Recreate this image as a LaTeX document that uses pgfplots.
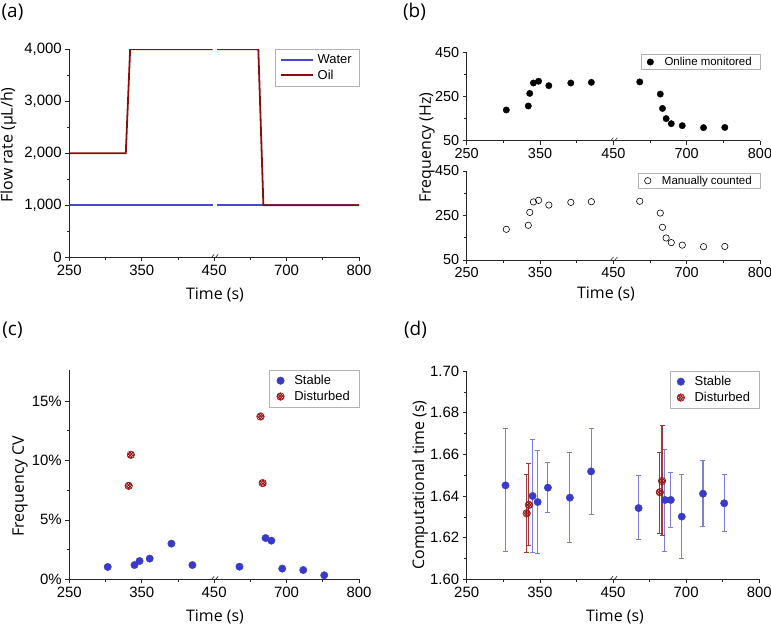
\documentclass[border=0pt]{standalone}
\usepackage{pgfplots}
\pgfplotsset{compat=1.18}
\usetikzlibrary{patterns.meta}
\usepackage{fontspec}
\setmainfont{Liberation Sans}
\newfontfamily\lblfont{Open Sans}

\definecolor{wblue}{RGB}{72,72,205}
\definecolor{oilred}{RGB}{140,12,12}
\definecolor{dotblue}{RGB}{58,58,200}
\definecolor{barblue}{RGB}{125,125,222}
\definecolor{dkred}{RGB}{150,20,20}

% broken time axis: 250..450 | 600..800, right part shifted by -150
\pgfplotsset{
  brk/.style={
    scale only axis,
    axis lines=left,
    axis line style={-, line width=0.7pt, black!85},
    every tick/.style={black!85, line width=0.6pt},
    tick align=outside,
    major tick length=4bp,
    minor tick length=2.5bp,
    xmin=250, xmax=650,
    xtick={250,350,450,550,650},
    xticklabels={250,350,450,700,800},
    minor x tick num=1,
    minor y tick num=1,
    x filter/.expression={x>525 ? x-150 : x},
    tick label style={font=\fontsize{15}{16}\selectfont},
    /pgf/number format/assume math mode=true,
    legend cell align=left,
    legend style={at={(1,1)}, anchor=north east, draw=black!30,
      line width=0.5pt, font=\fontsize{13}{15}\selectfont,
      inner xsep=7bp, inner ysep=3bp, row sep=1bp,
      /tikz/every odd column/.append style={column sep=8bp}},
  },
  stable/.style={only marks, mark=*, mark size=3.7bp, color=dotblue},
  disturbed/.style={only marks, mark=*, mark size=3.8bp,
    mark options={draw=dkred, line width=0.5pt,
      pattern={Hatch[angle=45,distance=2bp,line width=1bp]}, pattern color=dkred}},
  smallleg/.style={legend style={font=\fontsize{11.5}{12.5}\selectfont,
      inner ysep=0.8bp, inner xsep=6bp,
      /tikz/every odd column/.append style={column sep=9bp}}},
}
\newcommand{\brkmark}{%
  \draw[black!85, line width=0.6pt]
    ([xshift=-5bp,yshift=-3bp]rel axis cs:0.5,0) -- ++(5bp,6bp)
    ([xshift=-1bp,yshift=-3bp]rel axis cs:0.5,0) -- ++(5bp,6bp);}

\begin{document}
\begin{tikzpicture}
\path[use as bounding box] (0,0) rectangle (771bp,-628bp);

% ---------------- (a) ----------------
\begin{axis}[brk,
  at={(69.3bp,-257.3bp)}, anchor=south west,
  width=289.7bp, height=208bp,
  ymin=0, ymax=4000, ytick={0,1000,2000,3000,4000},
  /pgf/number format/1000 sep={,},
  unbounded coords=jump,
  legend image code/.code={\draw[#1] (0bp,0bp) -- (32bp,0bp);},
  legend style={inner xsep=5bp, /tikz/every odd column/.append style={column sep=2bp}},
]
\addplot[draw=wblue, line width=1.8bp, no marks] coordinates {
  (250,1000)(448,1000)(500,nan)(604,1000)(800,1000)};
\addlegendentry{Water}
\addplot[draw=oilred, line width=1.8bp, no marks] coordinates {
  (250,2000)(328,2000)(334,4000)(448,4000)(500,nan)
  (604,4000)(661,4000)(668,1000)(800,1000)};
\addlegendentry{Oil}
\brkmark
\end{axis}

% ---------------- (b) top ----------------
\begin{axis}[brk, smallleg,
  at={(466.7bp,-140.7bp)}, anchor=south west,
  width=293.3bp, height=88.4bp,
  ymin=50, ymax=450, ytick={50,250,450},
  tick label style={font=\fontsize{14.5}{15}\selectfont},
  legend style={at={(1,0.98)}},
]
\addplot[only marks, mark=*, mark size=3.2bp, black] coordinates {
  (304,189)(334,207)(336,264)(341,311)(348,319)(362,299)(392,311)(420,314)
  (636,316)(664,261)(667,196)(672,150)(679,127)(694,118)(723,109)(752,110)};
\addlegendentry{Online monitored}
\brkmark
\end{axis}

% ---------------- (b) bottom ----------------
\begin{axis}[brk, smallleg,
  at={(466.7bp,-260bp)}, anchor=south west,
  width=293.3bp, height=89bp,
  ymin=50, ymax=450, ytick={50,250,450},
  tick label style={font=\fontsize{14.5}{15}\selectfont},
  legend style={at={(1,0.98)}},
]
\addplot[only marks, mark=o, mark size=3.2bp, black, line width=0.6pt] coordinates {
  (304,188)(334,206)(336,264)(341,311)(348,318)(362,297)(392,309)(420,312)
  (636,314)(664,261)(667,197)(672,149)(679,128)(694,117)(723,110)(752,111)};
\addlegendentry{Manually counted}
\brkmark
\end{axis}

% ---------------- (c) ----------------
\begin{axis}[brk,
  at={(69.3bp,-579.3bp)}, anchor=south west,
  width=289.7bp, height=209.3bp,
  ymin=0, ymax=17.6, ytick={0,5,10,15},
  yticklabel={\pgfmathprintnumber{\tick}\%},
]
\addplot[stable] coordinates {
  (303,1.04)(340,1.2)(347,1.54)(361,1.74)(391,3.0)(420,1.2)
  (635,1.06)(671,3.47)(679,3.25)(694,0.9)(723,0.78)(752,0.34)};
\addlegendentry{Stable}
\addplot[disturbed] coordinates {
  (332,7.86)(335,10.47)(664,13.69)(667,8.09)};
\addlegendentry{Disturbed}
\brkmark
\end{axis}

% ---------------- (d) ----------------
\begin{axis}[brk,
  at={(466.7bp,-579.3bp)}, anchor=south west,
  width=292.6bp, height=208.3bp,
  ymin=1.60, ymax=1.70, ytick={1.60,1.62,1.64,1.66,1.68,1.70},
  yticklabel style={/pgf/number format/.cd, fixed, fixed zerofill, precision=2},
]
\addplot[stable,
  error bars/.cd, y dir=both, y explicit,
  error bar style={barblue, line width=1.1pt},
  error mark options={rotate=90, mark size=2.5bp, barblue, line width=1pt}]
  coordinates {
  (303,1.6451) += (0,0.0274) -= (0,0.0318)
  (340,1.6400) += (0,0.0272) -= (0,0.0272)
  (347,1.6371) += (0,0.0246) -= (0,0.0249)
  (361,1.6440) += (0,0.0120) -= (0,0.0117)
  (391,1.6392) += (0,0.0216) -= (0,0.0216)
  (420,1.6518) += (0,0.0207) -= (0,0.0206)
  (635,1.6342) += (0,0.0157) -= (0,0.0153)
  (671,1.6381) += (0,0.0243) -= (0,0.0247)
  (679,1.6381) += (0,0.0134) -= (0,0.0131)
  (694,1.6301) += (0,0.0203) -= (0,0.0202)
  (723,1.6411) += (0,0.0157) -= (0,0.0157)
  (752,1.6365) += (0,0.0136) -= (0,0.0136)};
\addlegendentry{Stable}
\addplot[disturbed,
  error bars/.cd, y dir=both, y explicit,
  error bar style={dkred!85, line width=1.1pt},
  error mark options={rotate=90, mark size=2.5bp, dkred!85, line width=1pt}]
  coordinates {
  (332,1.6317) += (0,0.0187) -= (0,0.0189)
  (335,1.6357) += (0,0.0200) -= (0,0.0197)
  (664,1.6418) += (0,0.0190) -= (0,0.0197)
  (667,1.6472) += (0,0.0265) -= (0,0.0264)};
\addlegendentry{Disturbed}
\brkmark
\end{axis}

% ---------------- labels ----------------
\begin{scope}[font=\lblfont\fontsize{16}{18}\selectfont]
\node at (215bp,-295bp) {Time (s)};
\node[rotate=90] at (8.5bp,-145bp) {Flow rate (µL/h)};
\node at (606bp,-294bp) {Time (s)};
\node[rotate=90] at (427bp,-147.5bp) {Frequency (Hz)};
\node at (215bp,-617bp) {Time (s)};
\node[rotate=90] at (20bp,-486bp) {Frequency CV};
\node at (615bp,-617bp) {Time (s)};
\node[rotate=90] at (420bp,-485bp) {Computational time (s)};
\end{scope}
\begin{scope}[font=\lblfont\fontsize{19}{21}\selectfont]
\node at (12.5bp,-12bp) {(a)};
\node at (414.5bp,-12bp) {(b)};
\node at (12.5bp,-330bp) {(c)};
\node at (415.5bp,-330bp) {(d)};
\end{scope}
\end{tikzpicture}
\end{document}
